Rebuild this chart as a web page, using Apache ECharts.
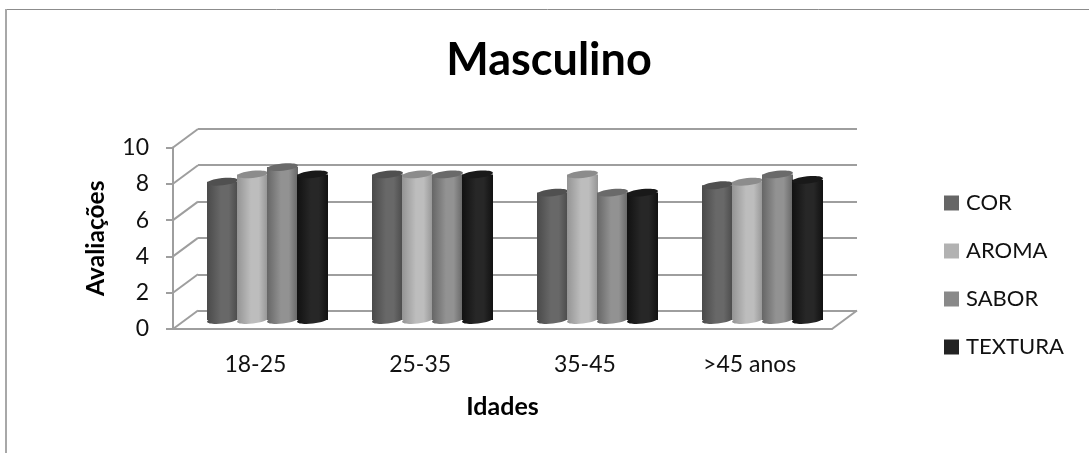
<!DOCTYPE html>
<html>
<head>
<meta charset="utf-8">
<title>Masculino</title>
<script src="https://cdn.jsdelivr.net/npm/echarts@6/dist/echarts.min.js"></script>
<style>
  html, body { margin: 0; padding: 0; background: #fff; }
  #chart { width: 1089px; height: 453px; }
</style>
</head>
<body>
<div id="chart"></div>
<script>
// valores
const idades = ['18-25', '25-35', '35-45', '>45 anos'];
const yTicks = [0, 2, 4, 6, 8, 10];
const cor = [7.6, 8, 7, 7.4];
const aroma = [8, 8, 8, 7.6];
const sabor = [8.4, 8, 7, 8];
const textura = [8, 8, 7, 7.7];

const font = 'Lato, "Open Sans", sans-serif';
const lineColor = '#9e9e9e';
const barWidth = 31;
const barStep = 30;
const depth = [25, -18.5]; // deslocamento da parede de fundo

// edge, center, top
const shades = {
  COR: ['#4a4a4a', '#686868', '#505050'],
  AROMA: ['#949494', '#bdbdbd', '#8c8c8c'],
  SABOR: ['#666666', '#929292', '#6a6a6a'],
  TEXTURA: ['#111111', '#272727', '#191919']
};
const swatch = { COR: '#666666', AROMA: '#b2b2b2', SABOR: '#898989', TEXTURA: '#222222' };

function cylinderItem(name, index) {
  const c = shades[name];
  const fill = new echarts.graphic.LinearGradient(0, 0, 1, 0, [
    { offset: 0, color: c[0] },
    { offset: 0.45, color: c[1] },
    { offset: 0.7, color: c[1] },
    { offset: 1, color: c[0] }
  ]);
  return function (params, api) {
    const top = api.coord([api.value(0), api.value(1)]);
    const base = api.coord([api.value(0), 0]);
    const cx = top[0] + (index - 1.5) * barStep;
    const tilt = 0.11;
    return {
      type: 'group',
      children: [
        { type: 'ellipse', shape: { cx: cx, cy: base[1], rx: barWidth / 2, ry: 3.6 }, rotation: tilt, originX: cx, originY: base[1], style: { fill: fill } },
        { type: 'rect', shape: { x: cx - barWidth / 2, y: top[1], width: barWidth, height: base[1] - top[1] }, style: { fill: fill } },
        { type: 'ellipse', shape: { cx: cx, cy: top[1], rx: barWidth / 2, ry: 3.6 }, rotation: tilt, originX: cx, originY: top[1], style: { fill: c[2] } }
      ]
    };
  };
}

function cylinderSeries(name, index, values) {
  return {
    name: name,
    type: 'custom',
    xAxisIndex: 2,
    yAxisIndex: 2,
    clip: false,
    z: 5 + index,
    itemStyle: { color: swatch[name] },
    data: values.map(function (v, i) { return [i, v]; }),
    encode: { x: 0, y: 1 },
    renderItem: cylinderItem(name, index)
  };
}

// diagonais da parede lateral e do chao
const sideLines = {
  type: 'custom',
  xAxisIndex: 0,
  yAxisIndex: 0,
  clip: false,
  silent: true,
  z: 2,
  legendHoverLink: false,
  data: yTicks.map(function (v) { return [0, v]; }),
  encode: { x: 0, y: 1 },
  renderItem: function (params, api) {
    const x = params.coordSys.x;
    const y = api.coord([0, api.value(1)])[1];
    const lines = [
      { type: 'line', shape: { x1: x, y1: y, x2: x + depth[0], y2: y + depth[1] }, style: { stroke: lineColor, lineWidth: 2 } }
    ];
    if (api.value(1) === 0) {
      const xr = x + params.coordSys.width;
      lines.push({ type: 'line', shape: { x1: xr, y1: y, x2: xr + depth[0], y2: y + depth[1] }, style: { stroke: lineColor, lineWidth: 2 } });
    }
    return { type: 'group', children: lines };
  }
};

const chart = echarts.init(document.getElementById('chart'), null, { renderer: 'canvas' });

chart.setOption({
  animation: false,
  backgroundColor: '#fff',
  title: {
    text: 'Masculino',
    left: 544,
    top: 33,
    textAlign: 'center',
    textStyle: { fontFamily: font, fontSize: 45, fontWeight: 'bold', color: '#000' }
  },
  legend: {
    orient: 'vertical',
    left: 939,
    top: 187,
    itemWidth: 15,
    itemHeight: 15,
    itemGap: 26,
    icon: 'rect',
    selectedMode: false,
    data: ['COR', 'AROMA', 'SABOR', 'TEXTURA'],
    textStyle: { fontFamily: font, fontSize: 22, color: '#111', padding: [0, 0, 0, 2] }
  },
  grid: [
    { left: 173, top: 147.5, width: 659, height: 181.5 },  // frente
    { left: 198, top: 128.5, width: 659, height: 182.5 },  // fundo
    { left: 185, top: 138, width: 660, height: 182 }       // plano dos cilindros
  ],
  xAxis: [
    {
      gridIndex: 0,
      type: 'category',
      data: idades,
      name: 'Idades',
      nameLocation: 'middle',
      nameGap: 65,
      nameTextStyle: { fontFamily: font, fontSize: 25, fontWeight: 'bold', color: '#000' },
      axisLine: { lineStyle: { color: lineColor, width: 2 } },
      axisTick: { show: false },
      axisLabel: { margin: 24, fontFamily: font, fontSize: 23, color: '#111' }
    },
    { gridIndex: 1, type: 'category', data: idades, axisLine: { show: false }, axisTick: { show: false }, axisLabel: { show: false } },
    { gridIndex: 2, type: 'category', data: idades, axisLine: { show: false }, axisTick: { show: false }, axisLabel: { show: false } }
  ],
  yAxis: [
    {
      gridIndex: 0,
      type: 'value',
      min: 0,
      max: 10,
      interval: 2,
      name: 'Avaliações',
      nameLocation: 'middle',
      nameGap: 64,
      nameTextStyle: { fontFamily: font, fontSize: 24.5, fontWeight: 'bold', color: '#000' },
      axisLine: { show: true, lineStyle: { color: lineColor, width: 2 } },
      axisTick: { show: true, length: 7, lineStyle: { color: lineColor, width: 2 } },
      axisLabel: { margin: 24, fontFamily: font, fontSize: 23, color: '#111', padding: [3, 0, 0, 0] },
      splitLine: { show: false }
    },
    {
      gridIndex: 1,
      type: 'value',
      min: 0,
      max: 10,
      interval: 2,
      axisLine: { show: false },
      axisTick: { show: false },
      axisLabel: { show: false },
      splitLine: { show: true, lineStyle: { color: lineColor, width: 2 } }
    },
    { gridIndex: 2, type: 'value', min: 0, max: 10, interval: 2, show: false, splitLine: { show: false } }
  ],
  series: [
    sideLines,
    cylinderSeries('COR', 0, cor),
    cylinderSeries('AROMA', 1, aroma),
    cylinderSeries('SABOR', 2, sabor),
    cylinderSeries('TEXTURA', 3, textura)
  ],
  graphic: [
    { type: 'line', shape: { x1: 6, y1: 9.5, x2: 1089, y2: 9.5 }, style: { stroke: '#8c8c8c', lineWidth: 1 } },
    { type: 'line', shape: { x1: 6, y1: 9, x2: 6, y2: 453 }, style: { stroke: '#a8a8a8', lineWidth: 2 } }
  ]
});
</script>
</body>
</html>
